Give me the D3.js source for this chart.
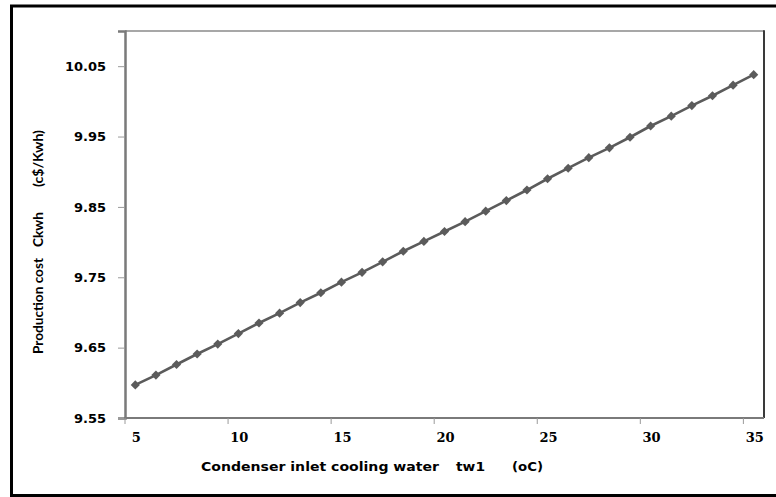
<!DOCTYPE html>
<html>
<head>
<meta charset="utf-8">
<script src="https://cdn.jsdelivr.net/npm/d3@7/dist/d3.min.js"></script>
<style>
  html, body { margin: 0; padding: 0; background: #fff; }
  svg { display: block; }
</style>
</head>
<body>
<svg id="chart" width="776" height="497"></svg>
<script>
// ---- data ----
const categories = [5,6,7,8,9,10,11,12,13,14,15,16,17,18,19,20,21,22,23,24,25,26,27,28,29,30,31,32,33,34,35];
const costValues = [9.597,9.611,9.626,9.641,9.655,9.670,9.685,9.699,9.714,9.728,9.743,9.757,9.772,9.787,9.801,9.815,9.829,9.844,9.859,9.874,9.890,9.905,9.920,9.934,9.949,9.965,9.979,9.994,10.008,10.023,10.038];
const yTicks = [9.55, 9.65, 9.75, 9.85, 9.95, 10.05];
const xLabelCats = [5, 10, 15, 20, 25, 30, 35];
const yDomain = [9.55, 10.10];
const xTitleParts = ["Condenser inlet cooling water", "tw1", "(oC)"];
const yTitleParts = ["Production cost", "Ckwh", "(c$/Kwh)"];

// ---- layout ----
const svg = d3.select("#chart");
const plot = { left: 125, top: 31, right: 764, bottom: 418 };

const x = d3.scaleBand().domain(categories).range([plot.left, plot.right]).paddingInner(0).paddingOuter(0);
const y = d3.scaleLinear().domain(yDomain).range([plot.bottom, plot.top]);

// outer frame (left, top, bottom)
svg.append("path")
  .attr("d", "M2000,6 L11.5,6 L11.5,495.5 L2000,495.5")
  .attr("fill", "none").attr("stroke", "#000").attr("stroke-width", 3);

// plot area border: top & right
svg.append("line").attr("x1", plot.left).attr("x2", plot.right).attr("y1", plot.top).attr("y2", plot.top)
  .attr("stroke", "#8a8a8a").attr("stroke-width", 1.5);
svg.append("line").attr("x1", plot.right).attr("x2", plot.right).attr("y1", plot.top - 0.75).attr("y2", plot.bottom)
  .attr("stroke", "#3a3a3a").attr("stroke-width", 2);

// y axis
const yAxis = d3.axisLeft(y).tickValues(yTicks).tickSize(7).tickPadding(12).tickFormat(d3.format(".2f"));
const gy = svg.append("g").attr("transform", `translate(${plot.left},0)`).call(yAxis);
gy.select(".domain").attr("stroke", "#7a7a7a").attr("stroke-width", 2.5);
gy.selectAll(".tick line").attr("stroke", "#9a9a9a").attr("stroke-width", 1);
gy.selectAll(".tick text")
  .attr("font-family", "'DejaVu Sans', Verdana, sans-serif")
  .attr("font-weight", "bold").attr("font-size", 13).attr("fill", "#000")
  .attr("x", -19);

// x axis: tick marks at category boundaries every 5, labels at category centers
const gx = svg.append("g").attr("transform", `translate(0,${plot.bottom})`);
gx.append("line").attr("x1", plot.left - 1).attr("x2", plot.right).attr("y1", 0).attr("y2", 0)
  .attr("stroke", "#7a7a7a").attr("stroke-width", 2);
gx.selectAll("line.tk").data(xLabelCats).join("line").attr("class", "tk")
  .attr("x1", d => x(d)).attr("x2", d => x(d)).attr("y1", 0).attr("y2", 6)
  .attr("stroke", "#9a9a9a").attr("stroke-width", 1);
gx.selectAll("text.tl").data(xLabelCats).join("text").attr("class", "tl")
  .attr("x", d => x(d) + x.bandwidth() / 2 + 1).attr("y", 24)
  .attr("text-anchor", "middle")
  .attr("font-family", "'DejaVu Serif', 'Liberation Serif', serif")
  .attr("font-weight", "bold").attr("font-size", 13).attr("fill", "#000")
  .text(d => d);

// line + markers
const line = d3.line().x((d, i) => x(categories[i]) + x.bandwidth() / 2).y(d => y(d));
svg.append("path").datum(costValues).attr("d", line)
  .attr("fill", "none").attr("stroke", "#5b5b5b").attr("stroke-width", 2.6);
svg.selectAll("path.mk").data(costValues).join("path").attr("class", "mk")
  .attr("d", d3.symbol().type(d3.symbolSquare).size(42))
  .attr("transform", (d, i) => `translate(${x(categories[i]) + x.bandwidth() / 2},${y(d)}) rotate(45)`)
  .attr("fill", "#5b5b5b");

// x title
const xt = [[201, 439], [456, 485], [512, 543]];
xTitleParts.forEach((t, i) => {
  svg.append("text").attr("x", xt[i][0]).attr("y", 471)
    .attr("font-family", "'DejaVu Sans', Verdana, sans-serif")
    .attr("font-weight", "bold").attr("font-size", 12).attr("fill", "#000")
    .attr("textLength", xt[i][1] - xt[i][0]).attr("lengthAdjust", "spacingAndGlyphs")
    .text(t);
});

// y title (rotated), positions along y given as [bottom, top]
const yt = [[354, 258], [247, 212], [187, 130]];
yTitleParts.forEach((t, i) => {
  svg.append("text")
    .attr("transform", `translate(43,${yt[i][0]}) rotate(-90)`)
    .attr("x", 0).attr("y", 0)
    .attr("font-family", "Lato, 'Open Sans', sans-serif")
    .attr("font-weight", "bold").attr("font-size", 14).attr("fill", "#000")
    .attr("textLength", yt[i][0] - yt[i][1]).attr("lengthAdjust", "spacingAndGlyphs")
    .text(t);
});
</script>
</body>
</html>
